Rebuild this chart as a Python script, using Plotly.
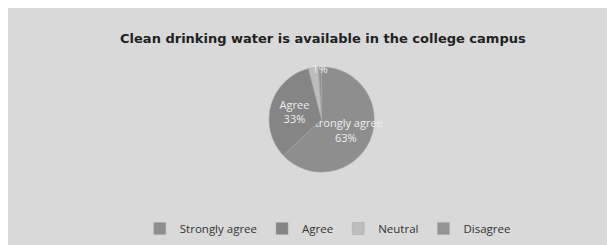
import plotly.graph_objects as go

categories = ["Strongly agree", "Agree", "Neutral", "Disagree"]
values = [63, 33, 3, 1]
slice_text = ["Strongly agree<br>63%", "Agree<br>33%", "", "1%"]
colors = ["#8e8e8e", "#858585", "#bdbdbd", "#939393"]

fig = go.Figure()
fig.add_trace(go.Pie(
    labels=categories,
    values=values,
    text=slice_text,
    textinfo="text",
    textposition="inside",
    insidetextorientation="horizontal",
    insidetextfont=dict(color="#eeeeee", size=11, family="Open Sans"),
    marker=dict(colors=colors, line=dict(color="#a8a8a8", width=0.5)),
    sort=False,
    direction="clockwise",
    rotation=0,
    domain=dict(x=[0.25, 0.77], y=[0.33, 0.76]),
    showlegend=True,
    hoverinfo="label+percent",
))

fig.update_layout(
    width=615,
    height=245,
    margin=dict(l=0, r=0, t=0, b=0),
    paper_bgcolor="#d9d9d9",
    plot_bgcolor="#d9d9d9",
    uniformtext=dict(minsize=11, mode="show"),
    title=dict(
        text="<b>Clean drinking water is available in the college campus</b>",
        x=0.512, xanchor="center", y=0.875, yanchor="middle",
        font=dict(family="DejaVu Sans", size=13, color="#222222"),
    ),
    legend=dict(
        orientation="h",
        x=0.52, xanchor="center",
        y=0.1, yanchor="middle",
        font=dict(family="Open Sans", size=11.5, color="#333333"),
        bgcolor="rgba(0,0,0,0)",
        itemwidth=30,
    ),
)

fig.write_html("out.html")
